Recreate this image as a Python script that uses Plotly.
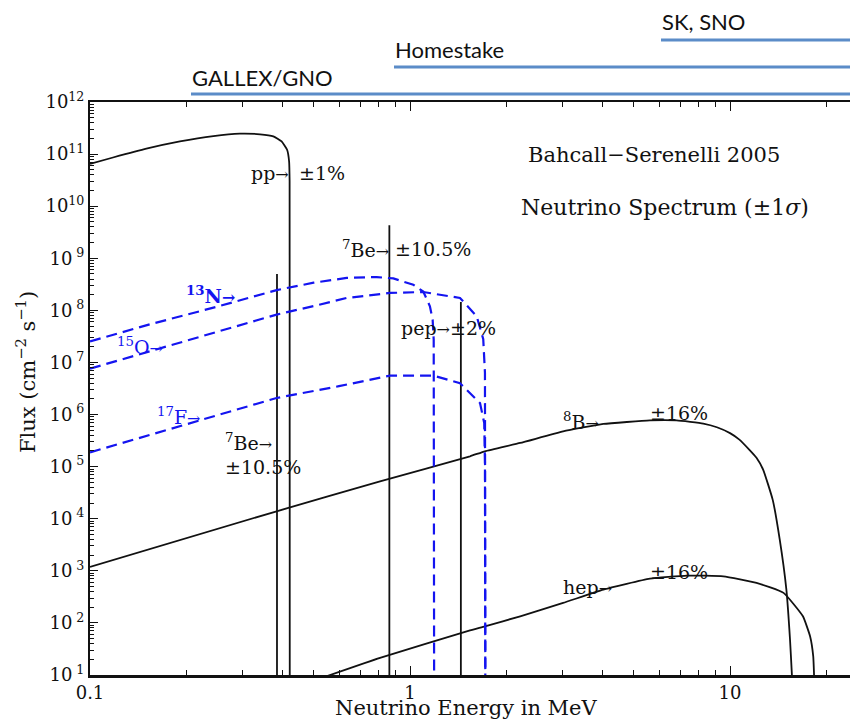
import plotly.graph_objects as go

# ---------------- data ----------------
pp_E = [0.1, 0.118, 0.15, 0.191, 0.243, 0.294, 0.34, 0.374, 0.397, 0.413, 0.419, 0.4205, 0.421]
pp_F = [6.5e10, 8.6e10, 1.27e11, 1.75e11, 2.22e11, 2.47e11, 2.4e11, 2.19e11, 1.75e11, 1.21e11, 7.2e10, 3.0e10, 1]

n13_E = [0.1, 0.154, 0.25, 0.383, 0.5, 0.634, 0.787, 0.887, 1.024, 1.10, 1.154, 1.177, 1.186, 1.19]
n13_F = [2.54e7, 5.4e7, 1.18e8, 2.45e8, 3.4e8, 4.2e8, 4.36e8, 4.1e8, 3.1e8, 2.3e8, 1.2e8, 6.6e7, 2.7e7, 1]

o15_E = [0.1, 0.154, 0.25, 0.383, 0.5, 0.634, 0.866, 1.10, 1.433, 1.616, 1.694, 1.715, 1.72]
o15_F = [7.6e6, 1.63e7, 3.9e7, 8.3e7, 1.21e8, 1.73e8, 2.16e8, 2.25e8, 1.73e8, 7.7e7, 2.8e7, 6.3e6, 1]

f17_E = [0.1, 0.154, 0.25, 0.383, 0.6, 0.866, 1.183, 1.433, 1.655, 1.706, 1.715, 1.72]
f17_F = [1.88e5, 4.1e5, 9.7e5, 2.08e6, 3.5e6, 5.6e6, 5.6e6, 4.0e6, 1.66e6, 6.9e5, 1.17e5, 1]

b8_E = [0.1, 0.383, 0.806, 1.54, 1.715, 2.21, 3.01, 4.02, 5.62, 6.81, 8.25, 9.1, 10, 10.7, 11.5, 12.1, 12.7, 13.6, 14.3, 15.0, 15.4, 15.6, 15.7]
b8_F = [1.19e3, 1.39e4, 5.2e4, 1.58e5, 1.97e5, 2.85e5, 4.75e5, 6.6e5, 7.7e5, 7.7e5, 6.7e5, 5.7e5, 4.4e5, 3.3e5, 2.1e5, 1.48e5, 8.7e4, 2.3e4, 4.0e3, 4.4e2, 48, 11, 5]

hep_E = [0.55, 0.806, 1.54, 1.715, 2.21, 3.01, 4.02, 5.62, 7.33, 9.53, 12.1, 14.7, 16.9, 17.8, 18.2, 18.3, 18.35]
hep_F = [9.5, 21.3, 72, 86, 134, 242, 436, 708, 809, 784, 587, 377, 134, 55, 23, 11, 5]

# monoenergetic lines: 7Be (0.384), 7Be (0.862), pep (1.442)
line_E = [0.384, 0.862, 1.442]
line_F = [5.0e8, 4.3e9, 1.44e8]
line_floor = 10

y_tick_vals = [10 ** k for k in range(1, 13)]
y_tick_text = ["10<sup>\u00a0%d</sup>" % k if k < 10 else "10<sup>%d</sup>" % k for k in range(1, 13)]
x_tick_vals = [0.1, 1, 10]
x_tick_text = ["0.1", "1", "10"]

# ---------------- figure ----------------
BLACK = "#111111"
BLUE = "#1414f0"
SERIF = "DejaVu Serif"

fig = go.Figure()

def solid(x, y, w=1.8):
    fig.add_trace(go.Scatter(x=x, y=y, mode="lines", line=dict(color=BLACK, width=w, shape="spline", smoothing=0.4),
                             showlegend=False, hoverinfo="skip"))

def dashed(x, y):
    fig.add_trace(go.Scatter(x=x, y=y, mode="lines",
                             line=dict(color=BLUE, width=2.2, dash="11px,6px"),
                             showlegend=False, hoverinfo="skip"))

solid(pp_E, pp_F)
solid(b8_E, b8_F)
solid(hep_E, hep_F)
for e, f in zip(line_E, line_F):
    solid([e, e], [line_floor, f], w=1.8)
dashed(n13_E, n13_F)
dashed(o15_E, o15_F)
dashed(f17_E, f17_F)

L, R, T, B = 90, 850, 102, 675          # plot area in screen pixels
def xp(px):
    return (px - L) / (R - L)
def yp(py):
    return (B - py) / (B - T)

ann = []
def label(px, py, text, size=19, color=BLACK, anchor="left"):
    ann.append(dict(x=xp(px), y=yp(py), xref="paper", yref="paper", text=text,
                    showarrow=False, xanchor=anchor, yanchor="middle",
                    font=dict(family=SERIF, size=size, color=color)))

ARR = "<span style='font-size:16px'>\u2192</span>"
label(249, 173, "pp" + ARR)
label(297, 173, "\u00b11%")
label(340, 249, "<sup>7</sup>Be" + ARR)
label(393, 249, "\u00b110.5%")
label(184, 295, "<b><sup>13</sup>N" + ARR + "</b>", color=BLUE)
label(115, 346, "<sup>15</sup>O" + ARR, color=BLUE)
label(155, 416, "<sup>17</sup>F" + ARR, color=BLUE)
label(223, 442, "<sup>7</sup>Be" + ARR)
label(223, 467, "\u00b110.5%")
label(399, 328, "pep" + ARR + "\u00b12%")
label(561, 421, "<sup>8</sup>B" + ARR)
label(648, 413, "\u00b116%")
label(561, 587, "hep" + ARR)
label(648, 572, "\u00b116%")
label(654, 155, "Bahcall\u2212Serenelli 2005", size=21, anchor="center")
label(665, 207, "Neutrino Spectrum (\u00b11<i>\u03c3</i>)", size=22, anchor="center")

# axis titles
ann.append(dict(x=xp(466), y=yp(708), xref="paper", yref="paper",
                text="Neutrino Energy in MeV", showarrow=False, xanchor="center", yanchor="middle",
                font=dict(family=SERIF, size=21, color=BLACK)))
ann.append(dict(x=xp(26), y=yp(372), xref="paper", yref="paper", textangle=-90,
                text="Flux (cm<sup>\u22122</sup> s<sup>\u22121</sup>)", showarrow=False,
                xanchor="center", yanchor="middle",
                font=dict(family=SERIF, size=21, color=BLACK)))

# detector threshold bars (arrows run off the right edge)
SANS = "Lato"
BAR = "#5b8cc8"
bars = [("GALLEX/GNO", 191, 94, 78), ("Homestake", 394, 67, 49), ("SK, SNO", 661, 40, 21)]
shapes = []
for name, x0, yb, yt in bars:
    shapes.append(dict(type="line", xref="paper", yref="paper", x0=xp(x0), x1=xp(870),
                       y0=yp(yb), y1=yp(yb), line=dict(color=BAR, width=3.2)))
    ann.append(dict(x=xp(x0 - 1), y=yp(yt), xref="paper", yref="paper", text=name,
                    showarrow=False, xanchor="left", yanchor="middle",
                    font=dict(family=SANS, size=22, color=BLACK)))

minor_x = [m * 10 ** k for k in (-1, 0, 1) for m in range(2, 10)]
minor_y = [m * 10 ** k for k in range(1, 12) for m in range(2, 10)]

fig.update_layout(
    width=850, height=722,
    margin=dict(l=L, r=850 - R, t=T, b=722 - B),
    paper_bgcolor="white", plot_bgcolor="white",
    annotations=ann, shapes=shapes,
    showlegend=False,
    xaxis=dict(type="log", range=[-1, 1.375], showgrid=False, zeroline=False,
               showline=True, linecolor=BLACK, linewidth=2.5, mirror=False,
               ticks="inside", ticklen=9, tickwidth=1.2, tickcolor=BLACK,
               tickmode="array", tickvals=x_tick_vals, ticktext=x_tick_text,
               tickfont=dict(family=SERIF, size=18, color=BLACK),
               minor=dict(tickmode="array", tickvals=minor_x, ticks="inside", ticklen=5,
                          tickwidth=1, tickcolor=BLACK, showgrid=False)),
    xaxis2=dict(type="log", range=[-1, 1.375], overlaying="x", side="top", matches="x",
                showgrid=False, zeroline=False, showline=True, linecolor=BLACK, linewidth=2,
                ticks="inside", ticklen=9, tickwidth=1.2, tickcolor=BLACK,
                tickmode="array", tickvals=x_tick_vals, showticklabels=False,
                minor=dict(tickmode="array", tickvals=minor_x, ticks="inside", ticklen=5,
                           tickwidth=1, tickcolor=BLACK, showgrid=False)),
    yaxis=dict(type="log", range=[1, 12], showgrid=False, zeroline=False,
               showline=True, linecolor=BLACK, linewidth=2, mirror=False,
               ticks="inside", ticklen=8, tickwidth=1.2, tickcolor=BLACK,
               tickmode="array", tickvals=y_tick_vals, ticktext=y_tick_text,
               tickfont=dict(family=SERIF, size=18, color=BLACK),
               minor=dict(tickmode="array", tickvals=minor_y, ticks="inside", ticklen=4,
                          tickwidth=1, tickcolor=BLACK, showgrid=False)),
)
# invisible trace to activate the top axis
fig.add_trace(go.Scatter(x=[1], y=[1], xaxis="x2", mode="markers", marker=dict(opacity=0),
                         showlegend=False, hoverinfo="skip"))

fig.write_html("out.html", config={"displayModeBar": False},
               post_script="document.body.style.margin='0';document.body.style.overflow='hidden';")
